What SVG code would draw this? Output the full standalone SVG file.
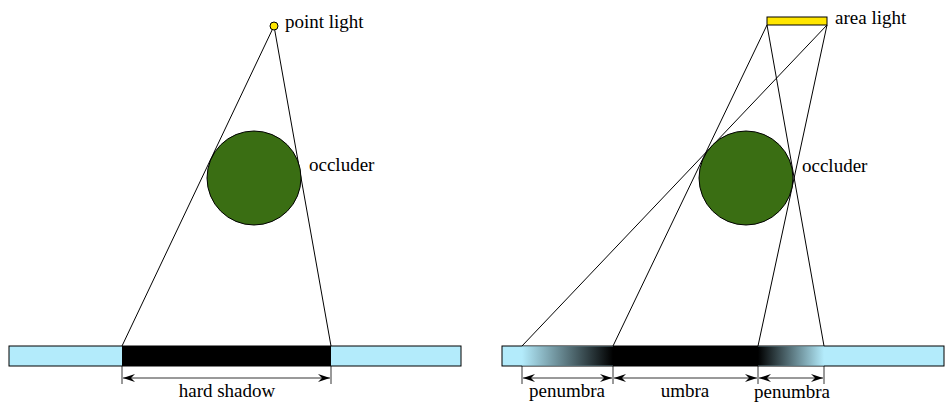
<svg xmlns="http://www.w3.org/2000/svg" width="945" height="403" viewBox="0 0 945 403">
<style>
text{font-family:"Liberation Serif","DejaVu Serif","Times New Roman",serif;font-size:19px;fill:#000}
.ln{stroke:#000;stroke-width:1;fill:none}
.dim{stroke:#000;stroke-width:0.8;fill:none}
.tick{stroke:#000;stroke-width:0.8}
.occ{fill:#3a6e13;stroke:#000;stroke-width:1}
.floor{fill:#b3ebfb;stroke:#000;stroke-width:1}
</style>
<defs>
<marker id="ah" viewBox="0 0 12 8" refX="12" refY="4" markerWidth="12" markerHeight="8" markerUnits="userSpaceOnUse" orient="auto-start-reverse">
<path d="M0,0 L12,4 L0,8 L4,4 Z" fill="#000"/>
</marker>
<linearGradient id="gl" x1="0" x2="1" y1="0" y2="0">
<stop offset="0" stop-color="#b3ebfb"/>
<stop offset="1" stop-color="#000"/>
</linearGradient>
<linearGradient id="gr" x1="0" x2="1" y1="0" y2="0">
<stop offset="0" stop-color="#000"/>
<stop offset="1" stop-color="#b3ebfb"/>
</linearGradient>
</defs>

<g id="floor-left">
<rect class="floor" x="9" y="346" width="452" height="20"/>
<rect x="122" y="346" width="209" height="20" fill="#000"/>
</g>
<g id="floor-right">
<rect class="floor" x="502" y="346" width="442" height="20"/>
<rect x="522" y="346.5" width="91" height="19" fill="url(#gl)"/>
<rect x="613" y="346" width="145" height="20" fill="#000"/>
<rect x="758" y="346.5" width="66" height="19" fill="url(#gr)"/>
</g>

<g id="connectors">
<line class="ln" x1="274" y1="26" x2="122" y2="346"/>
<line class="ln" x1="274" y1="26" x2="331" y2="346"/>
<line class="ln" x1="827" y1="25" x2="522" y2="346"/>
<line class="ln" x1="767" y1="25" x2="613" y2="346"/>
<line class="ln" x1="767" y1="25" x2="824" y2="346"/>
<line class="ln" x1="827" y1="25" x2="758" y2="346"/>
<line class="tick" x1="122" y1="366" x2="122" y2="384"/>
<line class="tick" x1="331" y1="366" x2="331" y2="384"/>
<line class="dim" x1="123" y1="378" x2="330" y2="378" marker-start="url(#ah)" marker-end="url(#ah)"/>
<line class="tick" x1="522" y1="366" x2="522" y2="384"/>
<line class="tick" x1="613" y1="366" x2="613" y2="384"/>
<line class="tick" x1="758" y1="366" x2="758" y2="384"/>
<line class="tick" x1="824" y1="366" x2="824" y2="384"/>
<line class="dim" x1="523" y1="378" x2="612" y2="378" marker-start="url(#ah)" marker-end="url(#ah)"/>
<line class="dim" x1="614" y1="378" x2="757" y2="378" marker-start="url(#ah)" marker-end="url(#ah)"/>
<line class="dim" x1="759" y1="378" x2="823" y2="378" marker-start="url(#ah)" marker-end="url(#ah)"/>
</g>

<g id="point-light">
<circle cx="274" cy="26" r="4" fill="#ffe600" stroke="#000" stroke-width="1"/>
<text x="285" y="28">point light</text>
</g>
<g id="occluder-left">
<circle class="occ" cx="254" cy="178" r="47"/>
<text x="309" y="171">occluder</text>
</g>
<g id="area-light">
<rect x="767" y="17" width="60" height="8" fill="#ffe600" stroke="#000" stroke-width="1"/>
<text x="835" y="24">area light</text>
</g>
<g id="occluder-right">
<circle class="occ" cx="746" cy="178" r="47"/>
<text x="802" y="172">occluder</text>
</g>
<g id="labels">
<text x="227" y="397" text-anchor="middle">hard shadow</text>
<text x="567" y="397" text-anchor="middle">penumbra</text>
<text x="685" y="397" text-anchor="middle">umbra</text>
<text x="792" y="398" text-anchor="middle">penumbra</text>
</g>
</svg>
